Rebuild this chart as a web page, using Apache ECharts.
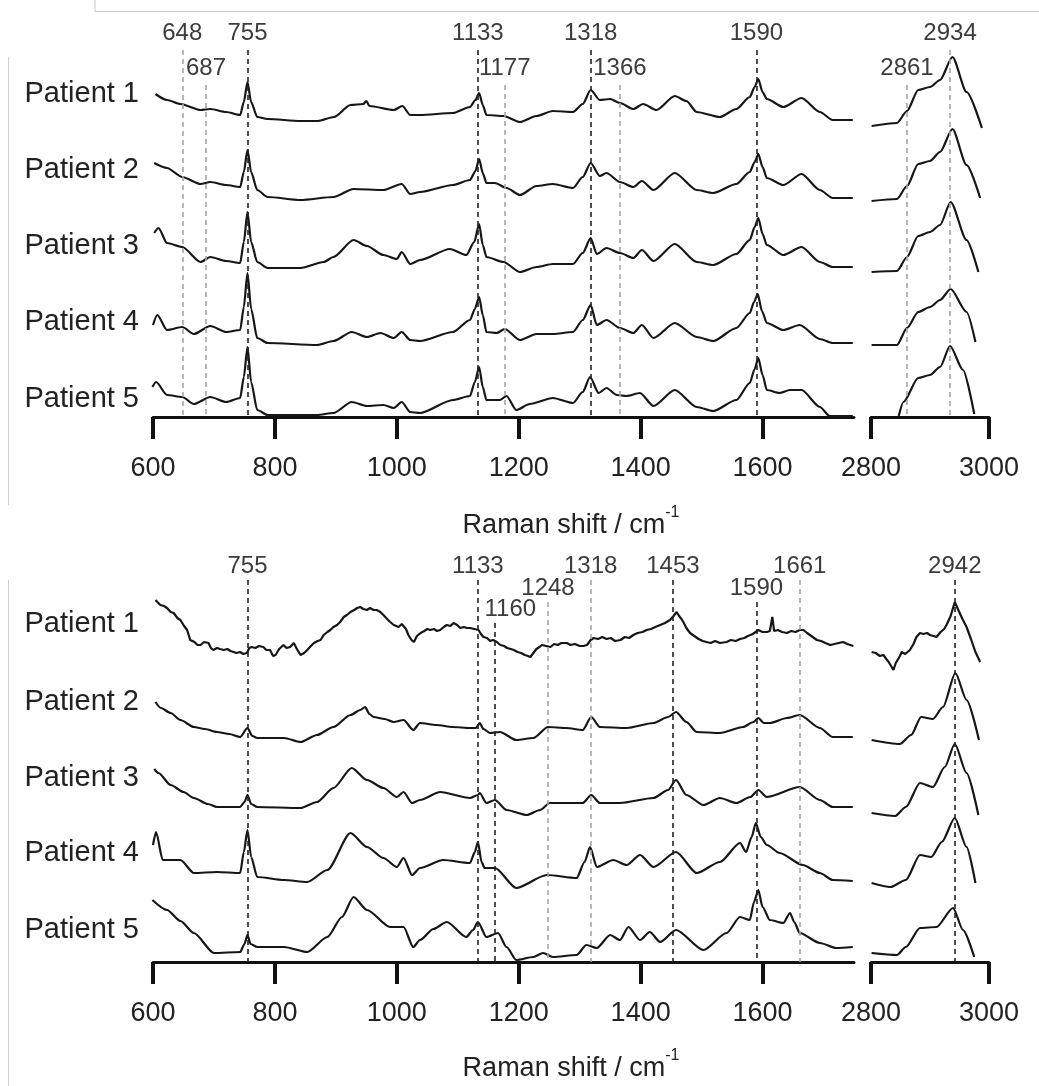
<!DOCTYPE html>
<html>
<head>
<meta charset="utf-8">
<script src="https://cdn.jsdelivr.net/npm/echarts@6/dist/echarts.min.js"></script>
<style>
  html, body { margin: 0; padding: 0; background: #fff; }
  #main { width: 1039px; height: 1086px; }
</style>
</head>
<body>
<div id="main"></div>
<script>
// stacked spectra, [Raman shift / cm-1, offset intensity]
var upper1L = [[604,323],[623,317],[645,313],[678,307],[694,308],[720,305],[743,302],[749,315],[755,335],[761,315],[771,300],[788,298],[842,296],[870,296],[897,300],[924,312],[945,313],[950,316],[955,311],[995,307],[1009,311],[1022,302],[1038,302],[1092,304],[1120,310],[1129,317],[1135,324],[1141,312],[1147,302],[1175,301],[1202,295],[1229,301],[1256,306],[1289,305],[1305,313],[1318,327],[1333,317],[1350,318],[1366,314],[1388,308],[1404,313],[1426,307],[1456,321],[1475,316],[1492,305],[1530,300],[1557,308],[1579,320],[1587,330],[1593,338],[1600,325],[1607,318],[1634,310],[1664,319],[1694,305],[1715,297],[1748,297]]
var upper2L = [[602,254],[623,249],[648,240],[678,233],[694,235],[720,232],[743,230],[749,245],[755,267],[761,245],[771,227],[788,220],[842,217],[896,220],[929,228],[978,227],[1008,233],[1022,223],[1038,225],[1092,232],[1120,237],[1129,246],[1135,258],[1141,244],[1147,234],[1161,234],[1180,229],[1202,222],[1229,231],[1256,233],[1289,229],[1305,240],[1318,254],[1333,241],[1344,244],[1366,235],[1388,230],[1402,236],[1421,227],[1456,244],[1492,227],[1519,224],[1557,233],[1579,245],[1587,255],[1593,263],[1600,250],[1607,239],[1634,232],[1664,243],[1694,227],[1715,219],[1748,219]]
var upper3L = [[602,184],[609,189],[623,174],[648,170],[678,155],[694,160],[720,156],[743,154],[749,175],[755,205],[761,175],[771,155],[788,149],[842,149],[880,155],[896,160],[929,177],[951,171],[978,162],[1000,158],[1008,165],[1022,153],[1038,157],[1087,168],[1114,162],[1127,175],[1135,193],[1141,172],[1147,160],[1175,155],[1202,145],[1229,150],[1256,153],[1289,153],[1305,164],[1318,179],[1328,163],[1344,169],[1366,164],[1388,159],[1402,167],[1421,156],[1456,173],[1492,155],[1519,152],[1557,163],[1579,177],[1587,190],[1593,199],[1600,183],[1607,172],[1634,162],[1664,170],[1694,155],[1715,150],[1748,150]]
var upper4L = [[600,92],[607,102],[623,87],[648,90],[667,83],[694,91],[720,85],[743,87],[749,110],[755,144],[761,108],[771,79],[788,74],[869,72],[896,76],[926,85],[951,80],[973,84],[995,79],[1008,85],[1022,77],[1038,76],[1092,85],[1120,97],[1128,108],[1135,120],[1141,102],[1147,85],[1164,84],[1177,88],[1202,77],[1229,83],[1256,83],[1289,85],[1305,97],[1318,112],[1328,92],[1344,97],[1366,89],[1388,84],[1402,92],[1421,79],[1456,94],[1492,80],[1519,76],[1557,89],[1579,104],[1586,115],[1592,123],[1599,106],[1607,94],[1634,87],[1661,92],[1694,78],[1715,74],[1748,74]]
var upper5L = [[599,30],[605,35],[623,22],[648,20],[667,13],[694,20],[720,15],[743,19],[749,40],[755,70],[761,35],[771,7],[788,2],[869,2],[896,4],[926,15],[951,11],[978,12],[995,9],[1008,15],[1022,5],[1038,4],[1092,17],[1120,21],[1128,35],[1135,50],[1141,30],[1147,17],[1169,17],[1180,21],[1196,7],[1218,13],[1256,19],[1289,14],[1305,25],[1317,40],[1331,24],[1344,29],[1361,22],[1377,21],[1399,24],[1421,11],[1456,27],[1492,10],[1519,6],[1557,17],[1579,34],[1587,48],[1593,59],[1600,42],[1607,27],[1628,24],[1645,27],[1664,27],[1694,10],[1710,1],[1748,1]]
var upper1R = [[2801,291],[2844,294],[2861,306],[2880,327],[2900,330],[2917,337],[2938,360],[2962,325],[2988,289]]
var upper2R = [[2801,216],[2844,218],[2861,231],[2880,253],[2900,256],[2917,265],[2938,288],[2962,252],[2985,219]]
var upper3R = [[2801,145],[2844,146],[2861,160],[2880,181],[2900,185],[2917,192],[2935,215],[2962,177],[2982,145]]
var upper4R = [[2801,72],[2844,72],[2861,89],[2880,105],[2900,110],[2917,117],[2935,128],[2962,105],[2977,75]]
var upper5R = [[2847,1],[2855,15],[2880,39],[2900,42],[2917,50],[2934,71],[2956,47],[2975,3]]

var lower1L = [[604,362],[612,357],[618,356],[623,354],[629,350],[634,349],[640,344],[645,342],[651,336],[656,332],[661,322],[668,320],[673,317],[678,317],[684,320],[691,319],[695,314],[699,312],[705,314],[710,313],[716,312],[722,313],[727,311],[732,310],[737,309],[743,310],[748,308],[754,309],[758,314],[762,315],[768,314],[774,316],[781,315],[786,312],[792,312],[797,306],[801,307],[807,313],[814,317],[819,314],[825,315],[831,319],[836,313],[842,307],[848,309],[853,312],[859,316],[864,319],[870,321],[875,322],[880,327],[886,330],[891,332],[896,335],[902,337],[907,340],[913,345],[918,347],[924,350],[930,352],[935,354],[940,355],[945,353],[951,352],[956,354],[962,352],[967,352],[973,350],[978,347],[984,343],[989,340],[995,337],[1003,335],[1008,338],[1011,339],[1015,333],[1019,327],[1024,322],[1028,320],[1033,326],[1039,329],[1045,331],[1050,333],[1055,332],[1061,333],[1066,331],[1071,332],[1077,335],[1082,337],[1088,336],[1093,339],[1099,337],[1104,334],[1110,335],[1115,334],[1120,334],[1127,333],[1134,332],[1138,328],[1142,325],[1148,324],[1153,321],[1158,322],[1164,320],[1170,317],[1176,316],[1181,314],[1187,313],[1192,312],[1198,310],[1204,309],[1210,307],[1215,306],[1219,305],[1224,309],[1229,313],[1234,315],[1238,317],[1245,316],[1252,315],[1258,318],[1264,317],[1270,319],[1279,319],[1285,317],[1292,318],[1300,316],[1306,316],[1312,317],[1318,322],[1323,324],[1330,323],[1337,325],[1344,323],[1351,324],[1358,321],[1367,322],[1374,325],[1381,324],[1388,327],[1395,329],[1403,330],[1410,332],[1417,333],[1424,335],[1432,337],[1440,339],[1448,342],[1454,346],[1459,350],[1463,346],[1467,343],[1470,340],[1475,334],[1481,329],[1488,326],[1495,323],[1502,321],[1508,320],[1515,319],[1522,321],[1530,319],[1541,320],[1548,322],[1556,321],[1563,323],[1570,324],[1576,326],[1584,328],[1593,332],[1600,330],[1607,330],[1612,331],[1616,345],[1619,331],[1625,332],[1632,330],[1640,329],[1647,331],[1654,330],[1661,332],[1667,332],[1673,329],[1680,326],[1689,322],[1696,321],[1703,319],[1711,317],[1718,318],[1725,319],[1732,320],[1739,318],[1749,316]]
var lower2L = [[604,260],[613,254],[629,249],[645,242],[667,235],[685,233],[705,230],[725,228],[743,225],[755,234],[763,226],[771,224],[815,224],[842,220],[869,227],[896,235],[924,247],[940,252],[948,255],[955,248],[962,245],[980,243],[995,240],[1011,242],[1027,232],[1038,239],[1065,237],[1092,235],[1120,234],[1130,234],[1136,239],[1142,233],[1153,229],[1169,230],[1196,222],[1224,224],[1248,235],[1278,234],[1305,232],[1319,245],[1333,235],[1377,234],[1421,239],[1445,245],[1458,250],[1475,240],[1492,230],[1530,229],[1568,235],[1585,240],[1593,244],[1602,239],[1612,239],[1640,244],[1661,247],[1694,234],[1715,225],[1748,225]]
var lower3L = [[602,193],[609,189],[629,177],[650,170],[667,164],[690,158],[705,155],[743,155],[750,160],[755,167],[761,158],[771,155],[842,154],[869,160],[896,174],[926,194],[951,182],[978,174],[1000,165],[1011,170],[1025,159],[1038,162],[1071,170],[1120,164],[1133,167],[1136,169],[1147,159],[1161,162],[1180,152],[1213,147],[1235,152],[1251,159],[1305,159],[1319,167],[1333,159],[1366,159],[1421,164],[1445,172],[1458,182],[1475,167],[1503,157],[1530,164],[1557,159],[1580,165],[1593,172],[1607,165],[1661,175],[1694,162],[1715,155],[1748,155]]
var lower4L = [[600,117],[605,130],[616,102],[645,102],[667,89],[705,90],[743,89],[749,110],[755,132],[761,105],[771,85],[815,82],[853,80],[886,92],[924,129],[951,115],[978,104],[1000,95],[1011,104],[1025,87],[1038,94],[1076,102],[1120,99],[1128,110],[1133,120],[1139,100],[1144,94],[1161,94],[1196,74],[1246,87],[1295,84],[1308,100],[1317,115],[1328,95],[1355,102],[1377,97],[1399,107],[1421,95],[1458,110],[1492,89],[1530,100],[1563,119],[1573,110],[1582,125],[1589,139],[1597,125],[1607,117],[1628,109],[1666,97],[1694,89],[1715,82],[1748,81]]
var lower5L = [[599,62],[623,52],[645,41],[667,29],[700,9],[743,10],[750,18],[755,27],[760,18],[771,15],[815,15],[853,10],[886,25],[910,45],[929,65],[951,52],[989,35],[1011,35],[1027,15],[1038,22],[1060,33],[1082,40],[1114,25],[1125,32],[1133,40],[1147,25],[1166,29],[1180,15],[1196,2],[1224,5],[1240,9],[1256,5],[1295,7],[1311,17],[1328,14],[1350,27],[1366,22],[1380,35],[1399,22],[1415,30],[1432,20],[1458,32],[1503,12],[1541,29],[1563,45],[1579,42],[1586,60],[1593,72],[1600,55],[1612,42],[1634,39],[1645,49],[1652,40],[1661,29],[1694,19],[1721,14],[1748,15]]
var lower1R = [[2801,310],[2808,309],[2815,306],[2821,307],[2826,303],[2830,300],[2834,296],[2838,292],[2842,299],[2845,302],[2849,306],[2852,310],[2858,308],[2866,312],[2872,318],[2877,325],[2883,329],[2889,328],[2895,329],[2900,327],[2906,326],[2911,325],[2918,330],[2924,333],[2928,337],[2935,346],[2942,360],[2948,352],[2955,343],[2962,335],[2970,322],[2977,310],[2985,300]]
var lower2R = [[2801,222],[2849,218],[2868,227],[2885,245],[2905,243],[2922,255],[2943,289],[2962,262],[2983,222]]
var lower3R = [[2801,149],[2841,146],[2859,155],[2883,179],[2905,175],[2925,195],[2942,218],[2962,189],[2982,147]]
var lower4R = [[2801,79],[2833,75],[2859,82],[2883,107],[2902,105],[2920,120],[2942,144],[2962,115],[2977,79]]
var lower5R = [[2801,9],[2844,7],[2859,15],[2883,34],[2911,35],[2939,54],[2956,32],[2975,5]]

var patients = ['Patient 1', 'Patient 2', 'Patient 3', 'Patient 4', 'Patient 5']
var leftTicks = [600, 800, 1000, 1200, 1400, 1600]
var rightTicks = [2800, 3000]

// marked bands: position, label tier, dark (1) or grey (0) guide
var upperPeaks = [648, 687, 755, 1133, 1177, 1318, 1366, 1590, 2861, 2934]
var upperTier = [0, 1, 0, 0, 1, 0, 1, 0, 1, 0]
var upperDark = [0, 0, 1, 1, 0, 1, 0, 1, 0, 0]
var lowerPeaks = [755, 1133, 1160, 1248, 1318, 1453, 1590, 1661, 2942]
var lowerTier = [0, 0, 2, 1, 0, 0, 1, 0, 0]
var lowerDark = [1, 1, 1, 0, 0, 1, 1, 0, 1]

var FONT = 'Liberation Sans'
var chart = echarts.init(document.getElementById('main'))

var panels = [
  { top: 20, height: 397, tiers: [367, 332], left: [upper1L, upper2L, upper3L, upper4L, upper5L], right: [upper1R, upper2R, upper3R, upper4R, upper5R], peaks: upperPeaks, tier: upperTier, dark: upperDark, labelY: [94, 170, 246, 322, 399], titleY: 522 },
  { top: 562, height: 400, tiers: [382, 360, 339], left: [lower1L, lower2L, lower3L, lower4L, lower5L], right: [lower1R, lower2R, lower3R, lower4R, lower5R], peaks: lowerPeaks, tier: lowerTier, dark: lowerDark, labelY: [624, 702, 778, 853, 930], titleY: 1065 }
]

var grid = []
var xAxis = []
var yAxis = []
var series = []
var graphic = []

function makeXAxis (idx, min, max, ticks) {
  return {
    type: 'value', gridIndex: idx, min: min, max: max,
    axisLine: { onZero: false, lineStyle: { color: '#111', width: 3 } },
    axisTick: { inside: false, length: 22, customValues: ticks, lineStyle: { color: '#111', width: 4 } },
    axisLabel: {
      customValues: ticks, margin: 38, fontSize: 27, fontFamily: FONT, color: '#222',
      formatter: function (v) { return String(v) }
    },
    splitLine: { show: false }
  }
}

function guide (x, p, i) {
  var item = {
    coord: [x, p.tiers[p.tier[i]]],
    name: String(x),
    lineStyle: { color: p.dark[i] ? '#222' : '#a6a6a6' }
  }
  if (x === 1160) item.label = { padding: [0, 0, 0, 32] }
  return [item, { coord: [x, 0] }]
}

panels.forEach(function (p, pi) {
  var gl = pi * 2
  var gr = gl + 1
  grid.push({ left: 153, width: 701, top: p.top, height: p.height })
  grid.push({ left: 871, width: 118, top: p.top, height: p.height })
  xAxis.push(makeXAxis(gl, 600, 1750, leftTicks))
  xAxis.push(makeXAxis(gr, 2800, 3000, rightTicks))
  yAxis.push({ type: 'value', gridIndex: gl, min: 0, max: p.height, show: false })
  yAxis.push({ type: 'value', gridIndex: gr, min: 0, max: p.height, show: false })

  var leftGuides = []
  var rightGuides = []
  p.peaks.forEach(function (x, i) {
    if (x >= 2800) rightGuides.push(guide(x, p, i))
    else leftGuides.push(guide(x, p, i))
  })
  var markStyle = {
    symbol: ['none', 'none'], silent: true, animation: false,
    lineStyle: { type: [5, 4], width: 1.6 },
    label: { show: true, position: 'start', distance: pi === 0 ? 5 : 2, formatter: '{b}', fontSize: 24, fontFamily: FONT, color: '#3c3c3c' }
  }

  p.left.forEach(function (d, k) {
    var noisy = pi === 1 && k === 0
    var s = {
      type: 'line', name: patients[k], xAxisIndex: gl, yAxisIndex: gl, data: d,
      showSymbol: false, smooth: noisy ? false : 0.25, smoothMonotone: 'x',
      lineStyle: { color: '#161616', width: 2.2 }, animation: false
    }
    if (k === 0) s.markLine = Object.assign({ data: leftGuides }, markStyle)
    series.push(s)
  })
  p.right.forEach(function (d, k) {
    var noisy = pi === 1 && k === 0
    var s = {
      type: 'line', name: patients[k], xAxisIndex: gr, yAxisIndex: gr, data: d,
      showSymbol: false, smooth: noisy ? false : 0.25, smoothMonotone: 'x',
      lineStyle: { color: '#161616', width: 2.2 }, animation: false
    }
    if (k === 0) s.markLine = Object.assign({ data: rightGuides }, markStyle)
    series.push(s)
  })

  patients.forEach(function (name, k) {
    graphic.push({
      type: 'text', x: 139, y: p.labelY[k],
      style: { text: name, font: '29px "' + FONT + '"', fill: '#222', align: 'right', verticalAlign: 'middle', textAlign: 'right', textVerticalAlign: 'middle' }
    })
  })
  graphic.push({
    type: 'text', x: 571, y: p.titleY,
    style: {
      text: '{a|Raman shift / cm}{b|-1}',
      align: 'center', verticalAlign: 'middle', textAlign: 'center', textVerticalAlign: 'middle',
      rich: {
        a: { fontSize: 27, fontFamily: FONT, fill: '#222', color: '#222', lineHeight: 34, verticalAlign: 'bottom' },
        b: { fontSize: 16, fontFamily: FONT, fill: '#222', color: '#222', verticalAlign: 'top', lineHeight: 16 }
      }
    }
  })
})

// frame remnants of the original figure
graphic.push({ type: 'polyline', shape: { points: [[95, 0], [95, 11.5], [1039, 11.5]] }, style: { stroke: '#c8c8c8', lineWidth: 1, fill: null } })
graphic.push({ type: 'line', shape: { x1: 8.5, y1: 57, x2: 8.5, y2: 505 }, style: { stroke: '#cfcfcf', lineWidth: 1 } })
graphic.push({ type: 'line', shape: { x1: 8.5, y1: 580, x2: 8.5, y2: 1086 }, style: { stroke: '#cfcfcf', lineWidth: 1 } })

var option = {
  backgroundColor: '#fff',
  animation: false,
  grid: grid,
  xAxis: xAxis,
  yAxis: yAxis,
  series: series,
  graphic: graphic
}
chart.setOption(option)
</script>
</body>
</html>
